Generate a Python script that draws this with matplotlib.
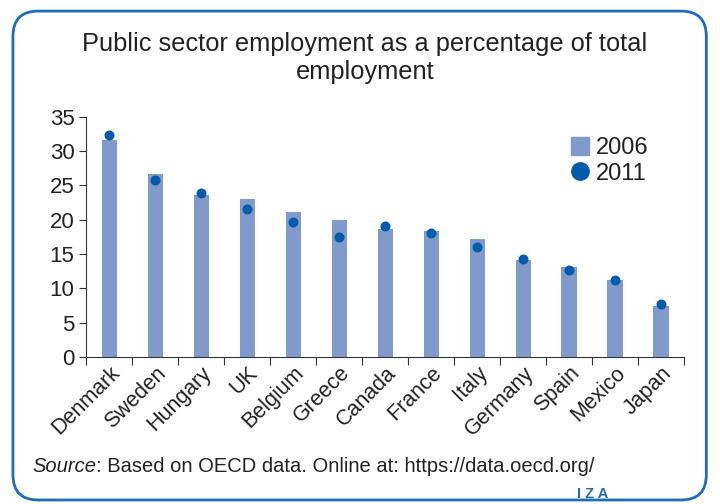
import matplotlib
matplotlib.use("Agg")
import matplotlib.pyplot as plt
from matplotlib.patches import FancyBboxPatch
from matplotlib.lines import Line2D
import numpy as np

plt.rcParams['font.family'] = ['Liberation Sans', 'DejaVu Sans']

countries = ["Denmark", "Sweden", "Hungary", "UK", "Belgium", "Greece", "Canada",
             "France", "Italy", "Germany", "Spain", "Mexico", "Japan"]
v2006 = [31.6, 26.7, 23.6, 23.0, 21.1, 20.0, 18.7, 18.4, 17.2, 14.1, 13.1, 11.2, 7.4]
v2011 = [32.3, 25.8, 23.9, 21.5, 19.6, 17.5, 19.1, 18.0, 16.0, 14.2, 12.6, 11.2, 7.7]

bar_col = '#7f9acb'
dot_col = '#005bac'

fig = plt.figure(figsize=(7.2, 5.04), dpi=100)

# rounded frame
frame = FancyBboxPatch((0.018, 0.008), 0.963, 0.97, boxstyle="round,pad=0,rounding_size=0.035",
                       transform=fig.transFigure, facecolor='white', edgecolor='#1f6db5',
                       linewidth=2, mutation_aspect=1.43, zorder=-5)
fig.patches.append(frame)

ax = fig.add_axes([0.12, 0.292, 0.83, 0.476])
ax.set_zorder(2)
ax.patch.set_alpha(0)
x = np.arange(len(countries))
ax.bar(x, v2006, width=0.33, color=bar_col, zorder=2)
ax.scatter(x, v2011, s=38, color=dot_col, zorder=3)

ax.set_xlim(-0.5, len(countries) - 0.5)
ax.set_ylim(0, 35)
ax.set_yticks(range(0, 36, 5))
ax.tick_params(axis='y', labelsize=16, length=5, direction='out', color='#333333',
               labelcolor='#222222')
ax.set_xticks(np.arange(-0.5, len(countries), 1.0))
ax.set_xticklabels([])
ax.tick_params(axis='x', length=6, direction='out', color='#333333')
ax.set_xticks(x, minor=True)
ax.set_xticklabels(countries, minor=True, rotation=45, ha='right', va='top',
                   rotation_mode='anchor', fontsize=15.5, color='#222222')
ax.tick_params(axis='x', which='minor', length=0, pad=4)
ax.spines['top'].set_visible(False)
ax.spines['right'].set_visible(False)
ax.spines['left'].set_color('#333333')
ax.spines['bottom'].set_color('#333333')

handles = [Line2D([], [], marker='s', linestyle='none', markersize=12.5, color=bar_col),
           Line2D([], [], marker='o', linestyle='none', markersize=12.5, color=dot_col)]
ax.legend(handles, ['2006', '2011'], loc='upper left', bbox_to_anchor=(0.79, 0.965),
          frameon=False, fontsize=17, handlelength=0.8, handletextpad=0.3,
          labelspacing=0.15, borderpad=0, labelcolor='#222222')

fig.text(0.507, 0.913, "Public sector employment as a percentage of total", ha='center',
         va='center', fontsize=18.3, color='#222222')
fig.text(0.507, 0.857, "employment", ha='center', va='center', fontsize=18.3, color='#222222')

# source line: italic word then the rest
src_it = fig.text(0.045, 0.074, "Source", ha='left', va='center', fontsize=14.5,
                  color='#222222', style='italic')
fig.canvas.draw()
x1 = src_it.get_window_extent().x1 / fig.bbox.width
fig.text(x1, 0.074, ": Based on OECD data. Online at: https://data.oecd.org/",
         ha='left', va='center', fontsize=14.5, color='#222222')

fig.text(0.823, 0.02, "I Z A", ha='center', va='center', fontsize=10.5, color='#1f6db5',
         fontweight='bold')

fig.savefig("out.png", dpi=100)
